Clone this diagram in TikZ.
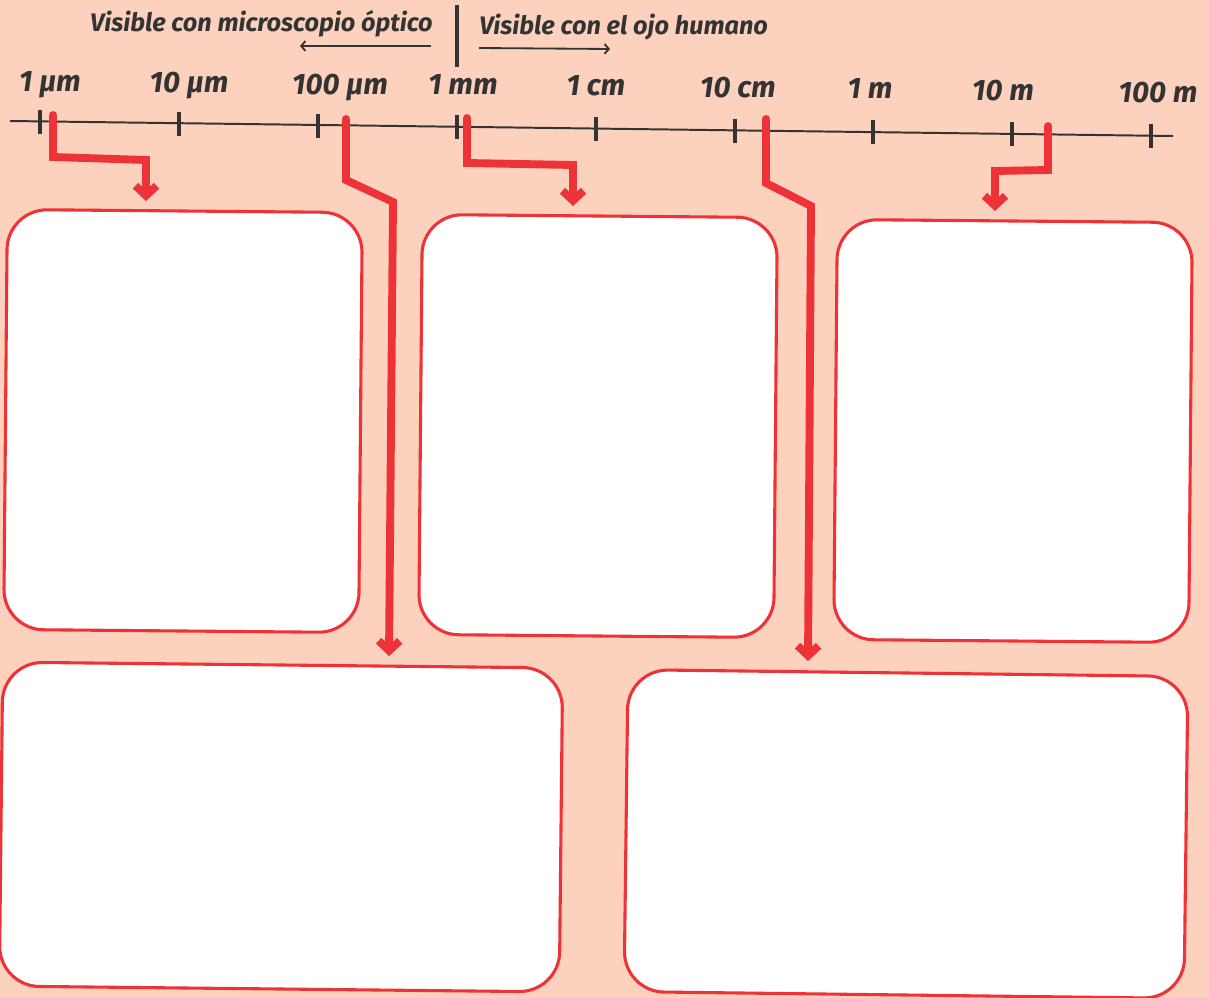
\documentclass[tikz,border=0pt]{standalone}
\usepackage{fontspec}
\setmainfont{Fira Sans}
\usetikzlibrary{arrows.meta, positioning}
\definecolor{peach}{RGB}{252,209,190}
\definecolor{redline}{RGB}{237,50,56}
\definecolor{ink}{RGB}{51,51,51}

\begin{document}
\begin{tikzpicture}[x=0.025cm, y=-0.025cm,
    scalelabel/.style={font=\fontsize{21}{23}\selectfont\bfseries\itshape, text=ink, inner sep=0pt},
    zonelabel/.style={font=\fontsize{18}{20}\selectfont\bfseries\itshape, text=ink, inner sep=0pt},
    axisline/.style={draw=ink, line width=1.4pt},
    tickmark/.style={draw=ink, line width=2.2pt},
    card/.style={draw=redline, line width=2.2pt, fill=white, rounded corners=1cm, inner sep=0pt},
    link/.style={draw=redline, line width=5.6pt, line cap=round, -{Straight Barb[length=7pt, width=15pt, line cap=butt]}},
    hint/.style={draw=ink, line width=1.3pt, -{Straight Barb[length=3pt, width=7pt]}}]

\useasboundingbox[fill=peach] (0,0) rectangle (1209,998);

% escala
\draw[axisline] (10,121) -- (1173,136);
\foreach \tx/\ty/\k in {40/122/1, 179/124/2, 318/126/3, 457/127/4, 596/129/5,
                        735/131/6, 873/132/7, 1012/134/8, 1151/136/9}{
    \draw[tickmark] (\tx,\ty-12) -- (\tx,\ty+12);
    \coordinate (t\k) at (\tx,\ty);
}
\foreach \lx/\ly/\lbl/\k in {50/92/1 µm/1, 189/93/10 µm/2, 340/95/100 µm/3,
                             463/95/1 mm/4, 596/96/1 cm/5, 738/98/10 cm/6,
                             870/99/1 m/7, 1003/101/10 m/8, 1158/103/100 m/9}{
    \node[scalelabel, anchor=base] (lbl\k) at (\lx,\ly) {\lbl};
}

% limite de visibilidad
\draw[ink, line width=2.2pt] (457,5) -- (457,67);
\node[zonelabel, anchor=base east] (micro) at (433,32) {Visible con microscopio óptico};
\node[zonelabel, anchor=base west] (ojo) at (479,35) {Visible con el ojo humano};
\draw[hint] (431,46) -- (300,46);
\draw[hint] (479,48) -- (610,49);

% recuadros
\node[card, minimum width=355*0.025cm, minimum height=420*0.025cm, rotate=-0.5] (box1) at (183,421) {};
\node[card, minimum width=355*0.025cm, minimum height=420*0.025cm, rotate=-0.5] (box2) at (598,426) {};
\node[card, minimum width=355*0.025cm, minimum height=420*0.025cm, rotate=-0.5] (box3) at (1013,431) {};
\node[card, minimum width=560*0.025cm, minimum height=324*0.025cm, rotate=-0.6] (box4) at (281,827) {};
\node[card, minimum width=560*0.025cm, minimum height=322*0.025cm, rotate=-0.7] (box5) at (906,834) {};

% flechas
\coordinate (s1) at (53,115);   \coordinate (e1) at (146,201);
\coordinate (s2) at (346,119);  \coordinate (e2) at (389,656);
\coordinate (s3) at (467,118);  \coordinate (e3) at (573,206);
\coordinate (s4) at (766,119);  \coordinate (e4) at (808,661);
\coordinate (s5) at (1048,126); \coordinate (e5) at (995,211);

\draw[link] (s1) -- (53,157) -- (146,160) -- (e1);
\draw[link] (s2) -- (346,180) -- (393,202) -- (e2);
\draw[link] (s3) -- (467,163) -- (573,165) -- (e3);
\draw[link] (s4) -- (766,183) -- (811,206) -- (e4);
\draw[link] (s5) -- (1048,170) -- (995,171) -- (e5);

\end{tikzpicture}
\end{document}
